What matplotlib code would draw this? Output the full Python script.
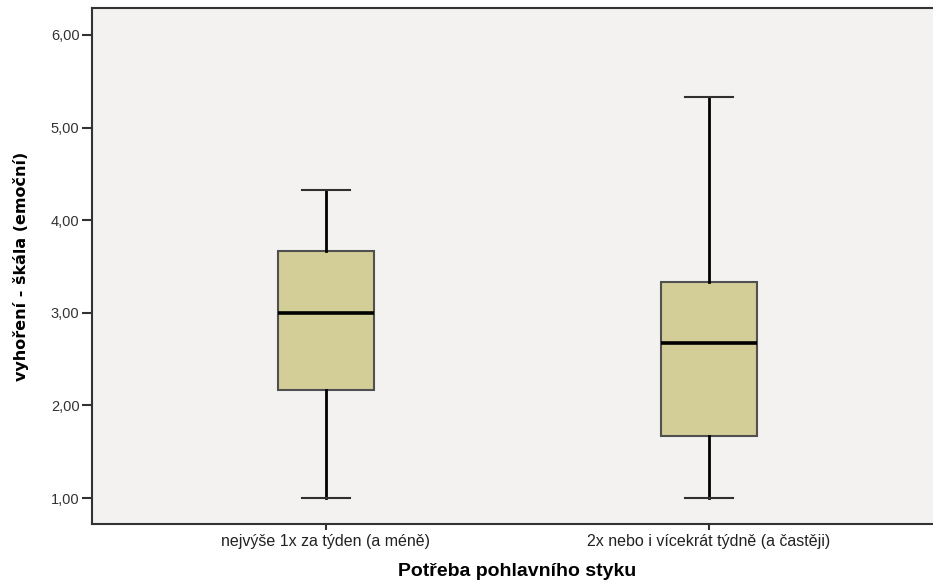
import matplotlib
matplotlib.use("Agg")
import matplotlib.pyplot as plt
from matplotlib import font_manager as fm

# ---------------- DATA ----------------
categories = ["nejvýše 1x za týden (a méně)", "2x nebo i vícekrát týdně (a častěji)"]
whislo = [1.00, 1.00]
q1 = [2.17, 1.67]
med = [3.00, 2.67]
q3 = [3.67, 3.33]
whishi = [4.33, 5.33]
yticks = [1, 2, 3, 4, 5, 6]

stats = []
for i, name in enumerate(categories):
    stats.append({"label": name, "whislo": whislo[i], "q1": q1[i], "med": med[i],
                  "q3": q3[i], "whishi": whishi[i], "fliers": []})

# ---------------- FONTS ----------------
names = {f.name for f in fm.fontManager.ttflist}
narrow = "Liberation Sans Narrow" if "Liberation Sans Narrow" in names else "DejaVu Sans"
plt.rcParams["font.family"] = ["Liberation Sans", "DejaVu Sans"]

# ---------------- PLOT ----------------
fig = plt.figure(figsize=(9.33, 5.80), dpi=100)
ax = fig.add_axes([92 / 933, 1 - 524 / 580, 1 - 92 / 933, (524 - 8) / 580])
ax.set_facecolor("#F3F2F0")

ax.bxp(stats, positions=[1, 2], widths=0.253, patch_artist=True, showfliers=False,
       boxprops=dict(facecolor="#D3CE97", edgecolor="#505050", linewidth=1.5),
       medianprops=dict(color="black", linewidth=2.6),
       whiskerprops=dict(color="black", linewidth=2),
       capprops=dict(color="#303030", linewidth=1.5),
       capwidths=0.126)

ax.set_xlim(0.389, 2.585)
ax.set_ylim(0.72, 6.29)

ax.set_yticks(yticks)
ax.set_yticklabels([f"{v:.2f}".replace(".", ",") for v in yticks])
ax.set_xticks([1, 2])
ax.set_xticklabels(categories)

ax.tick_params(axis="y", length=7, width=1.5, color="#333333", labelsize=10.5,
               labelcolor="#333333", pad=2)
ax.tick_params(axis="x", length=4, width=1.5, color="#333333", labelsize=11.5,
               labelcolor="#222222", pad=3)

for s in ["left", "bottom", "top"]:
    ax.spines[s].set_color("#333333")
    ax.spines[s].set_linewidth(1.5)
ax.spines["right"].set_visible(False)

ax.set_ylabel("vyhoření - škála (emoční)", fontsize=11.5, fontweight="bold",
              family=[narrow, "DejaVu Sans"], labelpad=16, color="black")
ax.set_xlabel("Potřeba pohlavního styku", fontsize=14, fontweight="bold", labelpad=10)
ax.xaxis.label.set_x((517 - 92) / (933 - 92))

fig.savefig("out.png", dpi=100)
